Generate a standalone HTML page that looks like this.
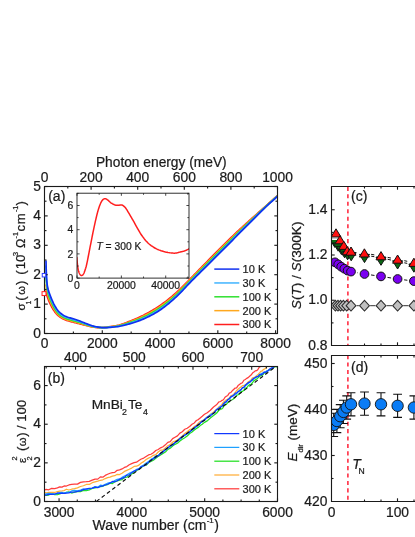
<!DOCTYPE html>
<html lang="en">
<head>
<meta charset="utf-8">
<title>MnBi2Te4 optical conductivity figure</title>
<style>
html,body{margin:0;padding:0;background:#fff;}
body{width:415px;height:537px;overflow:hidden;font-family:"Liberation Sans", sans-serif;}
svg{display:block;font-family:"Liberation Sans", sans-serif;}
svg text{stroke:#1a1a1a;stroke-width:0.22px;paint-order:stroke;}
</style>
</head>
<body>
<svg width="415" height="537" viewBox="0 0 415 537" style="will-change:transform">
<rect x="0" y="0" width="415" height="537" fill="#ffffff"/>
<clipPath id="ca"><rect x="44.5" y="186.5" width="233" height="147"/></clipPath>
<g clip-path="url(#ca)">
<path d="M45.8 291 L45.84 291.2 L45.89 291.46 L45.95 291.78 L46.01 292.12 L46.08 292.49 L46.16 292.85 L46.23 293.19 L46.3 293.5 L46.37 293.77 L46.43 294.01 L46.5 294.25 L46.57 294.47 L46.64 294.71 L46.72 294.95 L46.81 295.21 L46.9 295.5 L47 295.81 L47.11 296.14 L47.22 296.48 L47.34 296.84 L47.47 297.21 L47.61 297.59 L47.75 297.99 L47.9 298.4 L48.05 298.82 L48.2 299.24 L48.36 299.66 L48.52 300.11 L48.71 300.57 L48.91 301.07 L49.14 301.61 L49.4 302.2 L49.7 302.86 L50.04 303.58 L50.42 304.36 L50.81 305.16 L51.21 305.97 L51.61 306.76 L52.01 307.51 L52.4 308.2 L52.77 308.83 L53.15 309.44 L53.52 310.02 L53.9 310.57 L54.27 311.11 L54.65 311.62 L55.02 312.12 L55.4 312.6 L55.77 313.06 L56.12 313.49 L56.46 313.9 L56.81 314.29 L57.17 314.67 L57.55 315.04 L57.96 315.42 L58.4 315.8 L58.88 316.19 L59.4 316.59 L59.94 316.99 L60.51 317.39 L61.08 317.77 L61.66 318.14 L62.24 318.48 L62.8 318.8 L63.35 319.08 L63.88 319.34 L64.41 319.57 L64.95 319.79 L65.5 319.99 L66.07 320.19 L66.67 320.39 L67.3 320.6 L67.98 320.81 L68.7 321.02 L69.44 321.22 L70.21 321.42 L70.99 321.62 L71.77 321.81 L72.54 322.01 L73.3 322.2 L74.04 322.39 L74.78 322.58 L75.52 322.77 L76.25 322.95 L76.98 323.13 L77.72 323.32 L78.46 323.51 L79.2 323.7 L79.94 323.89 L80.66 324.09 L81.38 324.29 L82.11 324.49 L82.84 324.69 L83.6 324.89 L84.38 325.09 L85.2 325.3 L86.06 325.51 L86.96 325.74 L87.89 325.97 L88.84 326.21 L89.79 326.43 L90.75 326.64 L91.68 326.83 L92.6 327 L93.5 327.14 L94.39 327.27 L95.28 327.38 L96.16 327.48 L97.04 327.56 L97.9 327.63 L98.76 327.67 L99.6 327.7 L100.38 327.72 L101.09 327.72 L101.75 327.71 L102.42 327.69 L103.14 327.64 L103.94 327.56 L104.88 327.45 L106 327.3 L107.32 327.12 L108.83 326.91 L110.47 326.66 L112.2 326.39 L113.97 326.09 L115.75 325.76 L117.47 325.4 L119.1 325 L120.65 324.57 L122.17 324.09 L123.68 323.58 L125.16 323.04 L126.64 322.47 L128.12 321.89 L129.6 321.3 L131.1 320.7 L132.61 320.1 L134.12 319.48 L135.63 318.85 L137.15 318.21 L138.67 317.54 L140.18 316.85 L141.69 316.14 L143.2 315.4 L144.7 314.63 L146.2 313.84 L147.7 313.03 L149.2 312.19 L150.7 311.33 L152.2 310.45 L153.7 309.54 L155.2 308.6 L156.71 307.64 L158.22 306.66 L159.73 305.66 L161.25 304.62 L162.77 303.57 L164.28 302.48 L165.79 301.36 L167.3 300.2 L168.8 299.01 L170.3 297.78 L171.8 296.53 L173.3 295.24 L174.8 293.92 L176.3 292.57 L177.8 291.2 L179.3 289.8 L180.8 288.37 L182.3 286.9 L183.8 285.39 L185.31 283.86 L186.81 282.31 L188.33 280.75 L189.86 279.18 L191.4 277.6 L192.96 276.01 L194.55 274.39 L196.15 272.75 L197.76 271.1 L199.36 269.45 L200.96 267.81 L202.54 266.19 L204.1 264.6 L205.63 263.04 L207.15 261.49 L208.65 259.96 L210.14 258.44 L211.62 256.93 L213.11 255.42 L214.6 253.91 L216.1 252.4 L217.61 250.89 L219.12 249.37 L220.63 247.86 L222.15 246.36 L223.67 244.85 L225.18 243.36 L226.69 241.87 L228.2 240.4 L229.7 238.93 L231.2 237.48 L232.7 236.02 L234.2 234.58 L235.7 233.15 L237.2 231.72 L238.7 230.31 L240.2 228.9 L241.71 227.51 L243.22 226.13 L244.73 224.76 L246.25 223.4 L247.77 222.05 L249.28 220.7 L250.79 219.35 L252.3 218 L253.8 216.66 L255.28 215.34 L256.75 214.03 L258.23 212.71 L259.71 211.39 L261.21 210.05 L262.74 208.69 L264.3 207.3 L265.95 205.83 L267.7 204.26 L269.5 202.65 L271.3 201.03 L273.06 199.45 L274.73 197.96 L276.26 196.59 L277.6 195.4 L278.77 194.36 L279.84 193.43 L280.79 192.59 L281.63 191.86 L282.37 191.21 L283.01 190.66 L283.55 190.19 L284 189.8" fill="none" stroke="#ff1e1e" stroke-width="1.7" stroke-linejoin="round" stroke-linecap="round" />
<path d="M46 285 L46.02 285.23 L46.05 285.54 L46.08 285.91 L46.11 286.31 L46.15 286.74 L46.2 287.18 L46.25 287.6 L46.3 288 L46.36 288.37 L46.42 288.73 L46.49 289.08 L46.56 289.44 L46.63 289.8 L46.71 290.18 L46.8 290.58 L46.9 291 L47 291.45 L47.11 291.92 L47.22 292.4 L47.34 292.9 L47.47 293.41 L47.61 293.93 L47.75 294.46 L47.9 295 L48.05 295.53 L48.2 296.06 L48.36 296.59 L48.52 297.14 L48.71 297.7 L48.91 298.3 L49.14 298.93 L49.4 299.6 L49.7 300.34 L50.04 301.15 L50.42 302 L50.81 302.88 L51.21 303.75 L51.61 304.62 L52.01 305.44 L52.4 306.2 L52.77 306.91 L53.15 307.6 L53.52 308.25 L53.9 308.89 L54.27 309.5 L54.65 310.09 L55.02 310.65 L55.4 311.2 L55.77 311.72 L56.12 312.21 L56.46 312.67 L56.81 313.11 L57.17 313.54 L57.55 313.96 L57.96 314.38 L58.4 314.8 L58.88 315.23 L59.4 315.66 L59.94 316.09 L60.51 316.51 L61.08 316.91 L61.66 317.3 L62.24 317.66 L62.8 318 L63.35 318.3 L63.88 318.57 L64.41 318.82 L64.95 319.05 L65.5 319.27 L66.07 319.48 L66.67 319.69 L67.3 319.9 L67.98 320.11 L68.7 320.32 L69.44 320.52 L70.21 320.72 L70.99 320.91 L71.77 321.11 L72.54 321.3 L73.3 321.5 L74.04 321.7 L74.78 321.9 L75.52 322.09 L76.25 322.29 L76.98 322.49 L77.72 322.69 L78.46 322.89 L79.2 323.1 L79.94 323.31 L80.66 323.53 L81.38 323.76 L82.11 323.98 L82.84 324.21 L83.6 324.44 L84.38 324.67 L85.2 324.9 L86.06 325.14 L86.96 325.39 L87.89 325.65 L88.84 325.91 L89.79 326.16 L90.75 326.4 L91.68 326.61 L92.6 326.8 L93.5 326.96 L94.39 327.1 L95.28 327.22 L96.16 327.33 L97.04 327.42 L97.9 327.5 L98.76 327.56 L99.6 327.6 L100.38 327.64 L101.09 327.66 L101.75 327.68 L102.42 327.68 L103.14 327.66 L103.94 327.6 L104.88 327.52 L106 327.4 L107.32 327.24 L108.83 327.06 L110.47 326.85 L112.2 326.6 L113.97 326.33 L115.75 326.03 L117.47 325.7 L119.1 325.34 L120.65 324.94 L122.17 324.51 L123.68 324.05 L125.16 323.56 L126.64 323.04 L128.12 322.51 L129.6 321.96 L131.1 321.4 L132.61 320.84 L134.12 320.26 L135.63 319.66 L137.15 319.05 L138.67 318.41 L140.18 317.76 L141.69 317.07 L143.2 316.36 L144.7 315.62 L146.2 314.87 L147.7 314.08 L149.2 313.28 L150.7 312.44 L152.2 311.58 L153.7 310.69 L155.2 309.77 L156.71 308.82 L158.22 307.85 L159.73 306.84 L161.25 305.81 L162.77 304.75 L164.28 303.66 L165.79 302.53 L167.3 301.37 L168.8 300.17 L170.3 298.93 L171.8 297.67 L173.3 296.36 L174.8 295.03 L176.3 293.67 L177.8 292.28 L179.3 290.87 L180.8 289.42 L182.3 287.93 L183.8 286.4 L185.31 284.85 L186.81 283.28 L188.33 281.7 L189.86 280.12 L191.4 278.54 L192.96 276.95 L194.55 275.33 L196.15 273.71 L197.76 272.08 L199.36 270.45 L200.96 268.82 L202.54 267.22 L204.1 265.64 L205.63 264.08 L207.15 262.55 L208.65 261.02 L210.14 259.51 L211.62 258 L213.11 256.5 L214.6 255 L216.1 253.49 L217.61 251.98 L219.12 250.47 L220.63 248.97 L222.15 247.46 L223.67 245.96 L225.18 244.47 L226.69 242.98 L228.2 241.49 L229.7 240.01 L231.2 238.54 L232.7 237.07 L234.2 235.6 L235.7 234.14 L237.2 232.69 L238.7 231.25 L240.2 229.81 L241.71 228.38 L243.22 226.97 L244.73 225.56 L246.25 224.16 L247.77 222.77 L249.28 221.38 L250.79 219.99 L252.3 218.6 L253.8 217.22 L255.28 215.85 L256.75 214.49 L258.23 213.13 L259.71 211.76 L261.21 210.38 L262.74 208.98 L264.3 207.56 L265.95 206.07 L267.7 204.49 L269.5 202.87 L271.3 201.24 L273.06 199.66 L274.73 198.17 L276.26 196.8 L277.6 195.61 L278.77 194.57 L279.84 193.63 L280.79 192.8 L281.63 192.06 L282.37 191.42 L283.01 190.87 L283.55 190.4 L284 190.01" fill="none" stroke="#ffa81e" stroke-width="1.7" stroke-linejoin="round" stroke-linecap="round" />
<path d="M46 276 L46.02 276.38 L46.05 276.88 L46.08 277.46 L46.11 278.12 L46.15 278.83 L46.2 279.56 L46.25 280.29 L46.3 281 L46.36 281.71 L46.42 282.44 L46.49 283.2 L46.56 283.97 L46.63 284.74 L46.71 285.51 L46.8 286.27 L46.9 287 L47 287.72 L47.11 288.42 L47.22 289.13 L47.34 289.82 L47.47 290.5 L47.61 291.18 L47.75 291.84 L47.9 292.5 L48.05 293.13 L48.2 293.72 L48.36 294.29 L48.52 294.86 L48.71 295.44 L48.91 296.04 L49.14 296.69 L49.4 297.4 L49.7 298.19 L50.04 299.04 L50.42 299.94 L50.81 300.87 L51.21 301.8 L51.61 302.71 L52.01 303.59 L52.4 304.4 L52.77 305.16 L53.15 305.9 L53.52 306.61 L53.9 307.3 L54.27 307.96 L54.65 308.6 L55.02 309.21 L55.4 309.8 L55.77 310.35 L56.12 310.87 L56.46 311.36 L56.81 311.82 L57.17 312.27 L57.55 312.72 L57.96 313.16 L58.4 313.6 L58.88 314.05 L59.4 314.51 L59.94 314.97 L60.51 315.42 L61.08 315.85 L61.66 316.26 L62.24 316.65 L62.8 317 L63.35 317.31 L63.88 317.59 L64.41 317.83 L64.95 318.06 L65.5 318.27 L66.07 318.47 L66.67 318.68 L67.3 318.9 L67.98 319.12 L68.7 319.34 L69.44 319.55 L70.21 319.76 L70.99 319.97 L71.77 320.18 L72.54 320.39 L73.3 320.6 L74.04 320.81 L74.78 321.02 L75.52 321.22 L76.25 321.43 L76.98 321.64 L77.72 321.85 L78.46 322.07 L79.2 322.3 L79.94 322.53 L80.66 322.77 L81.38 323.02 L82.11 323.27 L82.84 323.52 L83.6 323.78 L84.38 324.04 L85.2 324.3 L86.06 324.57 L86.96 324.86 L87.89 325.16 L88.84 325.46 L89.79 325.75 L90.75 326.03 L91.68 326.28 L92.6 326.5 L93.5 326.69 L94.39 326.86 L95.28 327.01 L96.16 327.14 L97.04 327.25 L97.9 327.35 L98.76 327.43 L99.6 327.5 L100.38 327.56 L101.09 327.61 L101.75 327.65 L102.42 327.68 L103.14 327.68 L103.94 327.65 L104.88 327.59 L106 327.5 L107.32 327.37 L108.83 327.21 L110.47 327.03 L112.2 326.81 L113.97 326.57 L115.75 326.3 L117.47 326 L119.1 325.68 L120.65 325.32 L122.17 324.93 L123.68 324.52 L125.16 324.07 L126.64 323.61 L128.12 323.12 L129.6 322.62 L131.1 322.1 L132.61 321.58 L134.12 321.03 L135.63 320.47 L137.15 319.89 L138.67 319.29 L140.18 318.66 L141.69 318.01 L143.2 317.32 L144.7 316.62 L146.2 315.89 L147.7 315.14 L149.2 314.36 L150.7 313.55 L152.2 312.72 L153.7 311.85 L155.2 310.94 L156.71 310 L158.22 309.03 L159.73 308.03 L161.25 307 L162.77 305.94 L164.28 304.84 L165.79 303.71 L167.3 302.54 L168.8 301.33 L170.3 300.09 L171.8 298.81 L173.3 297.49 L174.8 296.14 L176.3 294.77 L177.8 293.36 L179.3 291.93 L180.8 290.47 L182.3 288.95 L183.8 287.41 L185.31 285.84 L186.81 284.25 L188.33 282.65 L189.86 281.06 L191.4 279.47 L192.96 277.88 L194.55 276.28 L196.15 274.67 L197.76 273.05 L199.36 271.44 L200.96 269.84 L202.54 268.25 L204.1 266.68 L205.63 265.13 L207.15 263.6 L208.65 262.09 L210.14 260.58 L211.62 259.08 L213.11 257.58 L214.6 256.09 L216.1 254.58 L217.61 253.08 L219.12 251.57 L220.63 250.07 L222.15 248.57 L223.67 247.07 L225.18 245.57 L226.69 244.08 L228.2 242.58 L229.7 241.09 L231.2 239.6 L232.7 238.11 L234.2 236.62 L235.7 235.14 L237.2 233.66 L238.7 232.19 L240.2 230.72 L241.71 229.26 L243.22 227.81 L244.73 226.37 L246.25 224.93 L247.77 223.49 L249.28 222.06 L250.79 220.63 L252.3 219.2 L253.8 217.77 L255.28 216.36 L256.75 214.95 L258.23 213.54 L259.71 212.13 L261.21 210.7 L262.74 209.27 L264.3 207.82 L265.95 206.31 L267.7 204.71 L269.5 203.08 L271.3 201.46 L273.06 199.88 L274.73 198.38 L276.26 197.01 L277.6 195.82 L278.77 194.77 L279.84 193.83 L280.79 193 L281.63 192.27 L282.37 191.62 L283.01 191.07 L283.55 190.6 L284 190.22" fill="none" stroke="#2fe02f" stroke-width="1.7" stroke-linejoin="round" stroke-linecap="round" />
<path d="M46 266 L46.02 266.69 L46.05 267.62 L46.08 268.72 L46.11 269.94 L46.15 271.23 L46.2 272.54 L46.25 273.81 L46.3 275 L46.36 276.15 L46.42 277.32 L46.49 278.51 L46.56 279.69 L46.63 280.84 L46.71 281.96 L46.8 283.02 L46.9 284 L47 284.9 L47.11 285.73 L47.22 286.51 L47.34 287.25 L47.47 287.96 L47.61 288.64 L47.75 289.32 L47.9 290 L48.05 290.66 L48.2 291.26 L48.36 291.84 L48.52 292.41 L48.71 292.99 L48.91 293.6 L49.14 294.27 L49.4 295 L49.7 295.82 L50.04 296.72 L50.42 297.68 L50.81 298.66 L51.21 299.65 L51.61 300.62 L52.01 301.54 L52.4 302.4 L52.77 303.2 L53.15 303.96 L53.52 304.69 L53.9 305.4 L54.27 306.08 L54.65 306.74 L55.02 307.38 L55.4 308 L55.77 308.6 L56.12 309.16 L56.46 309.7 L56.81 310.22 L57.17 310.73 L57.55 311.23 L57.96 311.71 L58.4 312.2 L58.88 312.69 L59.4 313.18 L59.94 313.66 L60.51 314.14 L61.08 314.59 L61.66 315.03 L62.24 315.43 L62.8 315.8 L63.35 316.13 L63.88 316.42 L64.41 316.68 L64.95 316.91 L65.5 317.13 L66.07 317.35 L66.67 317.57 L67.3 317.8 L67.98 318.03 L68.7 318.26 L69.44 318.49 L70.21 318.71 L70.99 318.93 L71.77 319.15 L72.54 319.37 L73.3 319.6 L74.04 319.83 L74.78 320.06 L75.52 320.29 L76.25 320.53 L76.98 320.76 L77.72 321 L78.46 321.25 L79.2 321.5 L79.94 321.76 L80.66 322.02 L81.38 322.29 L82.11 322.56 L82.84 322.84 L83.6 323.12 L84.38 323.41 L85.2 323.7 L86.06 324.01 L86.96 324.33 L87.89 324.67 L88.84 325.01 L89.79 325.34 L90.75 325.66 L91.68 325.95 L92.6 326.2 L93.5 326.42 L94.39 326.61 L95.28 326.79 L96.16 326.94 L97.04 327.08 L97.9 327.2 L98.76 327.31 L99.6 327.4 L100.38 327.48 L101.09 327.56 L101.75 327.63 L102.42 327.67 L103.14 327.7 L103.94 327.7 L104.88 327.67 L106 327.6 L107.32 327.5 L108.83 327.37 L110.47 327.22 L112.2 327.03 L113.97 326.82 L115.75 326.59 L117.47 326.32 L119.1 326.04 L120.65 325.73 L122.17 325.39 L123.68 325.02 L125.16 324.63 L126.64 324.22 L128.12 323.79 L129.6 323.33 L131.1 322.86 L132.61 322.37 L134.12 321.87 L135.63 321.34 L137.15 320.8 L138.67 320.23 L140.18 319.63 L141.69 319.01 L143.2 318.36 L144.7 317.68 L146.2 316.99 L147.7 316.27 L149.2 315.52 L150.7 314.75 L152.2 313.94 L153.7 313.09 L155.2 312.2 L156.71 311.27 L158.22 310.31 L159.73 309.32 L161.25 308.29 L162.77 307.22 L164.28 306.12 L165.79 304.98 L167.3 303.8 L168.8 302.58 L170.3 301.33 L171.8 300.03 L173.3 298.7 L174.8 297.34 L176.3 295.95 L177.8 294.53 L179.3 293.08 L180.8 291.6 L182.3 290.06 L183.8 288.5 L185.31 286.9 L186.81 285.29 L188.33 283.68 L189.86 282.07 L191.4 280.48 L192.96 278.89 L194.55 277.3 L196.15 275.7 L197.76 274.11 L199.36 272.51 L200.96 270.93 L202.54 269.35 L204.1 267.8 L205.63 266.26 L207.15 264.74 L208.65 263.24 L210.14 261.74 L211.62 260.24 L213.11 258.75 L214.6 257.26 L216.1 255.76 L217.61 254.26 L219.12 252.76 L220.63 251.26 L222.15 249.76 L223.67 248.26 L225.18 246.76 L226.69 245.26 L228.2 243.76 L229.7 242.25 L231.2 240.74 L232.7 239.23 L234.2 237.72 L235.7 236.21 L237.2 234.7 L238.7 233.2 L240.2 231.7 L241.71 230.21 L243.22 228.72 L244.73 227.23 L246.25 225.75 L247.77 224.27 L249.28 222.79 L250.79 221.32 L252.3 219.84 L253.8 218.37 L255.28 216.9 L256.75 215.44 L258.23 213.98 L259.71 212.52 L261.21 211.05 L262.74 209.58 L264.3 208.1 L265.95 206.56 L267.7 204.96 L269.5 203.32 L271.3 201.69 L273.06 200.1 L274.73 198.61 L276.26 197.24 L277.6 196.04 L278.77 194.99 L279.84 194.05 L280.79 193.22 L281.63 192.49 L282.37 191.85 L283.01 191.29 L283.55 190.83 L284 190.44" fill="none" stroke="#3fb4ff" stroke-width="1.7" stroke-linejoin="round" stroke-linecap="round" />
<path d="M46 261 L46.02 261.86 L46.05 263 L46.08 264.36 L46.11 265.88 L46.15 267.46 L46.2 269.06 L46.25 270.6 L46.3 272 L46.36 273.32 L46.42 274.65 L46.49 275.98 L46.56 277.28 L46.63 278.55 L46.71 279.77 L46.8 280.92 L46.9 282 L47 282.99 L47.11 283.91 L47.22 284.76 L47.34 285.57 L47.47 286.33 L47.61 287.07 L47.75 287.79 L47.9 288.5 L48.05 289.17 L48.2 289.78 L48.36 290.34 L48.52 290.89 L48.71 291.44 L48.91 292.03 L49.14 292.67 L49.4 293.4 L49.7 294.22 L50.04 295.13 L50.42 296.09 L50.81 297.09 L51.21 298.09 L51.61 299.08 L52.01 300.02 L52.4 300.9 L52.77 301.72 L53.15 302.52 L53.52 303.3 L53.9 304.05 L54.27 304.77 L54.65 305.48 L55.02 306.15 L55.4 306.8 L55.77 307.42 L56.12 308 L56.46 308.56 L56.81 309.09 L57.17 309.6 L57.55 310.1 L57.96 310.6 L58.4 311.1 L58.88 311.6 L59.4 312.1 L59.94 312.6 L60.51 313.08 L61.08 313.55 L61.66 313.99 L62.24 314.41 L62.8 314.8 L63.35 315.15 L63.88 315.46 L64.41 315.75 L64.95 316.02 L65.5 316.27 L66.07 316.51 L66.67 316.75 L67.3 317 L67.98 317.24 L68.7 317.47 L69.44 317.7 L70.21 317.91 L70.99 318.13 L71.77 318.35 L72.54 318.57 L73.3 318.8 L74.04 319.04 L74.78 319.28 L75.52 319.52 L76.25 319.76 L76.98 320.01 L77.72 320.27 L78.46 320.53 L79.2 320.8 L79.94 321.08 L80.66 321.36 L81.38 321.66 L82.11 321.96 L82.84 322.26 L83.6 322.57 L84.38 322.88 L85.2 323.2 L86.06 323.53 L86.96 323.88 L87.89 324.25 L88.84 324.61 L89.79 324.97 L90.75 325.31 L91.68 325.62 L92.6 325.9 L93.5 326.14 L94.39 326.37 L95.28 326.57 L96.16 326.75 L97.04 326.91 L97.9 327.06 L98.76 327.19 L99.6 327.3 L100.38 327.4 L101.09 327.49 L101.75 327.56 L102.42 327.62 L103.14 327.65 L103.94 327.66 L104.88 327.65 L106 327.6 L107.32 327.53 L108.83 327.43 L110.47 327.3 L112.2 327.15 L113.97 326.98 L115.75 326.78 L117.47 326.55 L119.1 326.3 L120.65 326.02 L122.17 325.72 L123.68 325.39 L125.16 325.04 L126.64 324.66 L128.12 324.26 L129.6 323.84 L131.1 323.4 L132.61 322.94 L134.12 322.46 L135.63 321.96 L137.15 321.44 L138.67 320.9 L140.18 320.33 L141.69 319.73 L143.2 319.1 L144.7 318.45 L146.2 317.78 L147.7 317.08 L149.2 316.36 L150.7 315.6 L152.2 314.81 L153.7 313.98 L155.2 313.1 L156.71 312.18 L158.22 311.23 L159.73 310.23 L161.25 309.2 L162.77 308.13 L164.28 307.02 L165.79 305.88 L167.3 304.7 L168.8 303.48 L170.3 302.21 L171.8 300.91 L173.3 299.57 L174.8 298.19 L176.3 296.79 L177.8 295.36 L179.3 293.9 L180.8 292.4 L182.3 290.86 L183.8 289.27 L185.31 287.66 L186.81 286.04 L188.33 284.41 L189.86 282.8 L191.4 281.2 L192.96 279.62 L194.55 278.03 L196.15 276.44 L197.76 274.86 L199.36 273.28 L200.96 271.71 L202.54 270.15 L204.1 268.6 L205.63 267.07 L207.15 265.56 L208.65 264.06 L210.14 262.56 L211.62 261.07 L213.11 259.59 L214.6 258.1 L216.1 256.6 L217.61 255.1 L219.12 253.6 L220.63 252.11 L222.15 250.61 L223.67 249.11 L225.18 247.61 L226.69 246.11 L228.2 244.6 L229.7 243.08 L231.2 241.56 L232.7 240.04 L234.2 238.51 L235.7 236.98 L237.2 235.45 L238.7 233.92 L240.2 232.4 L241.71 230.88 L243.22 229.37 L244.73 227.85 L246.25 226.34 L247.77 224.83 L249.28 223.32 L250.79 221.81 L252.3 220.3 L253.8 218.8 L255.28 217.3 L256.75 215.8 L258.23 214.3 L259.71 212.8 L261.21 211.3 L262.74 209.8 L264.3 208.3 L265.95 206.75 L267.7 205.13 L269.5 203.48 L271.3 201.85 L273.06 200.27 L274.73 198.77 L276.26 197.4 L277.6 196.2 L278.77 195.15 L279.84 194.21 L280.79 193.38 L281.63 192.64 L282.37 192 L283.01 191.45 L283.55 190.99 L284 190.6" fill="none" stroke="#1030f0" stroke-width="1.7" stroke-linejoin="round" stroke-linecap="round" />
</g>
<rect x="44.5" y="186.5" width="233" height="147" fill="none" stroke="#1a1a1a" stroke-width="1.12"/>
<line x1="44.5" y1="333.5" x2="44.5" y2="330.3" stroke="#1a1a1a" stroke-width="1.12" />
<line x1="73.39" y1="333.5" x2="73.39" y2="331.5" stroke="#1a1a1a" stroke-width="1.12" />
<line x1="102.28" y1="333.5" x2="102.28" y2="330.3" stroke="#1a1a1a" stroke-width="1.12" />
<line x1="131.17" y1="333.5" x2="131.17" y2="331.5" stroke="#1a1a1a" stroke-width="1.12" />
<line x1="160.05" y1="333.5" x2="160.05" y2="330.3" stroke="#1a1a1a" stroke-width="1.12" />
<line x1="188.94" y1="333.5" x2="188.94" y2="331.5" stroke="#1a1a1a" stroke-width="1.12" />
<line x1="217.83" y1="333.5" x2="217.83" y2="330.3" stroke="#1a1a1a" stroke-width="1.12" />
<line x1="246.72" y1="333.5" x2="246.72" y2="331.5" stroke="#1a1a1a" stroke-width="1.12" />
<line x1="275.61" y1="333.5" x2="275.61" y2="330.3" stroke="#1a1a1a" stroke-width="1.12" />
<line x1="44.5" y1="186.5" x2="44.5" y2="189.7" stroke="#1a1a1a" stroke-width="1.12" />
<line x1="67.8" y1="186.5" x2="67.8" y2="188.5" stroke="#1a1a1a" stroke-width="1.12" />
<line x1="91.1" y1="186.5" x2="91.1" y2="189.7" stroke="#1a1a1a" stroke-width="1.12" />
<line x1="114.4" y1="186.5" x2="114.4" y2="188.5" stroke="#1a1a1a" stroke-width="1.12" />
<line x1="137.7" y1="186.5" x2="137.7" y2="189.7" stroke="#1a1a1a" stroke-width="1.12" />
<line x1="161" y1="186.5" x2="161" y2="188.5" stroke="#1a1a1a" stroke-width="1.12" />
<line x1="184.3" y1="186.5" x2="184.3" y2="189.7" stroke="#1a1a1a" stroke-width="1.12" />
<line x1="207.6" y1="186.5" x2="207.6" y2="188.5" stroke="#1a1a1a" stroke-width="1.12" />
<line x1="230.9" y1="186.5" x2="230.9" y2="189.7" stroke="#1a1a1a" stroke-width="1.12" />
<line x1="254.2" y1="186.5" x2="254.2" y2="188.5" stroke="#1a1a1a" stroke-width="1.12" />
<line x1="277.5" y1="186.5" x2="277.5" y2="189.7" stroke="#1a1a1a" stroke-width="1.12" />
<line x1="44.5" y1="333.5" x2="47.7" y2="333.5" stroke="#1a1a1a" stroke-width="1.12" />
<line x1="277.5" y1="333.5" x2="274.3" y2="333.5" stroke="#1a1a1a" stroke-width="1.12" />
<line x1="44.5" y1="318.8" x2="46.5" y2="318.8" stroke="#1a1a1a" stroke-width="1.12" />
<line x1="277.5" y1="318.8" x2="275.5" y2="318.8" stroke="#1a1a1a" stroke-width="1.12" />
<line x1="44.5" y1="304.1" x2="47.7" y2="304.1" stroke="#1a1a1a" stroke-width="1.12" />
<line x1="277.5" y1="304.1" x2="274.3" y2="304.1" stroke="#1a1a1a" stroke-width="1.12" />
<line x1="44.5" y1="289.4" x2="46.5" y2="289.4" stroke="#1a1a1a" stroke-width="1.12" />
<line x1="277.5" y1="289.4" x2="275.5" y2="289.4" stroke="#1a1a1a" stroke-width="1.12" />
<line x1="44.5" y1="274.7" x2="47.7" y2="274.7" stroke="#1a1a1a" stroke-width="1.12" />
<line x1="277.5" y1="274.7" x2="274.3" y2="274.7" stroke="#1a1a1a" stroke-width="1.12" />
<line x1="44.5" y1="260" x2="46.5" y2="260" stroke="#1a1a1a" stroke-width="1.12" />
<line x1="277.5" y1="260" x2="275.5" y2="260" stroke="#1a1a1a" stroke-width="1.12" />
<line x1="44.5" y1="245.3" x2="47.7" y2="245.3" stroke="#1a1a1a" stroke-width="1.12" />
<line x1="277.5" y1="245.3" x2="274.3" y2="245.3" stroke="#1a1a1a" stroke-width="1.12" />
<line x1="44.5" y1="230.6" x2="46.5" y2="230.6" stroke="#1a1a1a" stroke-width="1.12" />
<line x1="277.5" y1="230.6" x2="275.5" y2="230.6" stroke="#1a1a1a" stroke-width="1.12" />
<line x1="44.5" y1="215.9" x2="47.7" y2="215.9" stroke="#1a1a1a" stroke-width="1.12" />
<line x1="277.5" y1="215.9" x2="274.3" y2="215.9" stroke="#1a1a1a" stroke-width="1.12" />
<line x1="44.5" y1="201.2" x2="46.5" y2="201.2" stroke="#1a1a1a" stroke-width="1.12" />
<line x1="277.5" y1="201.2" x2="275.5" y2="201.2" stroke="#1a1a1a" stroke-width="1.12" />
<line x1="44.5" y1="186.5" x2="47.7" y2="186.5" stroke="#1a1a1a" stroke-width="1.12" />
<line x1="277.5" y1="186.5" x2="274.3" y2="186.5" stroke="#1a1a1a" stroke-width="1.12" />
<rect x="42.25" y="273.45" width="3.5" height="3.5" fill="#fff" stroke="#2a3cff" stroke-width="1"/>
<rect x="42.05" y="291.65" width="3.9" height="3.9" fill="#fff" stroke="#ff2020" stroke-width="1"/>
<text x="44.5" y="181.9" font-size="13.8" text-anchor="middle" fill="#1a1a1a" >0</text>
<text x="91.1" y="181.9" font-size="13.8" text-anchor="middle" fill="#1a1a1a" >200</text>
<text x="137.7" y="181.9" font-size="13.8" text-anchor="middle" fill="#1a1a1a" >400</text>
<text x="184.3" y="181.9" font-size="13.8" text-anchor="middle" fill="#1a1a1a" >600</text>
<text x="230.9" y="181.9" font-size="13.8" text-anchor="middle" fill="#1a1a1a" >800</text>
<text x="277.5" y="181.9" font-size="13.8" text-anchor="middle" fill="#1a1a1a" >1000</text>
<text x="44.5" y="347.5" font-size="13.8" text-anchor="middle" fill="#1a1a1a" >0</text>
<text x="102.28" y="347.5" font-size="13.8" text-anchor="middle" fill="#1a1a1a" >2000</text>
<text x="160.05" y="347.5" font-size="13.8" text-anchor="middle" fill="#1a1a1a" >4000</text>
<text x="217.83" y="347.5" font-size="13.8" text-anchor="middle" fill="#1a1a1a" >6000</text>
<text x="275.61" y="347.5" font-size="13.8" text-anchor="middle" fill="#1a1a1a" >8000</text>
<text x="41" y="337.6" font-size="13.8" text-anchor="end" fill="#1a1a1a" >0</text>
<text x="41" y="308.2" font-size="13.8" text-anchor="end" fill="#1a1a1a" >1</text>
<text x="41" y="278.8" font-size="13.8" text-anchor="end" fill="#1a1a1a" >2</text>
<text x="41" y="249.4" font-size="13.8" text-anchor="end" fill="#1a1a1a" >3</text>
<text x="41" y="220" font-size="13.8" text-anchor="end" fill="#1a1a1a" >4</text>
<text x="41" y="190.6" font-size="13.8" text-anchor="end" fill="#1a1a1a" >5</text>
<text x="161.3" y="167.4" font-size="13.75" text-anchor="middle" fill="#1a1a1a" >Photon energy (meV)</text>
<text x="48.2" y="200.9" font-size="14" text-anchor="start" fill="#1a1a1a" >(a)</text>
<g transform="translate(25.4 310.3) rotate(-90)">
<text x="-0.2" y="0" font-size="11.5" fill="#1a1a1a">&#963;</text>
<text x="5.9" y="5.4" font-size="6.8" fill="#1a1a1a">1</text>
<text x="9.5" y="0" font-size="13.2" fill="#1a1a1a">(</text>
<text x="15.5" y="0" font-size="11.2" fill="#1a1a1a">&#969;</text>
<text x="25.4" y="0" font-size="13.2" fill="#1a1a1a">)</text>
<text x="35.6" y="0" font-size="13.2" fill="#1a1a1a">(</text>
<text x="41" y="0" font-size="13.2" fill="#1a1a1a">10</text>
<text x="54.4" y="-7.5" font-size="7.4" fill="#1a1a1a">3</text>
<text x="62.2" y="0" font-size="12.5" fill="#1a1a1a">&#937;</text>
<text x="71.8" y="-7.5" font-size="7.4" fill="#1a1a1a">-1</text>
<text x="78.9" y="0" font-size="13.2" fill="#1a1a1a" letter-spacing="0.55">cm</text>
<text x="98.2" y="-7.5" font-size="7.4" fill="#1a1a1a">-1</text>
<text x="104.8" y="0" font-size="13.2" fill="#1a1a1a">)</text>
</g>
<line x1="214.3" y1="269.1" x2="239.3" y2="269.1" stroke="#1030f0" stroke-width="1.5" />
<text x="242.6" y="273" font-size="11" text-anchor="start" fill="#1a1a1a" >10 K</text>
<line x1="214.3" y1="282.95" x2="239.3" y2="282.95" stroke="#3fb4ff" stroke-width="1.5" />
<text x="242.6" y="286.85" font-size="11" text-anchor="start" fill="#1a1a1a" >30 K</text>
<line x1="214.3" y1="296.8" x2="239.3" y2="296.8" stroke="#2fe02f" stroke-width="1.5" />
<text x="242.6" y="300.7" font-size="11" text-anchor="start" fill="#1a1a1a" >100 K</text>
<line x1="214.3" y1="310.65" x2="239.3" y2="310.65" stroke="#ffa81e" stroke-width="1.5" />
<text x="242.6" y="314.55" font-size="11" text-anchor="start" fill="#1a1a1a" >200 K</text>
<line x1="214.3" y1="324.5" x2="239.3" y2="324.5" stroke="#ff1e1e" stroke-width="1.5" />
<text x="242.6" y="328.4" font-size="11" text-anchor="start" fill="#1a1a1a" >300 K</text>
<rect x="77" y="193.2" width="112" height="84.9" fill="#fff" stroke="none"/>
<clipPath id="ci"><rect x="77" y="193.2" width="112" height="84.9"/></clipPath>
<g clip-path="url(#ci)">
<path d="M76.87 257.54 L76.92 258.15 L76.98 258.98 L77.06 259.97 L77.14 261.06 L77.24 262.19 L77.34 263.32 L77.44 264.37 L77.54 265.3 L77.65 266.12 L77.76 266.92 L77.87 267.68 L77.99 268.42 L78.11 269.12 L78.25 269.79 L78.39 270.43 L78.56 271.03 L78.73 271.61 L78.93 272.17 L79.14 272.71 L79.36 273.2 L79.58 273.66 L79.81 274.08 L80.03 274.44 L80.24 274.74 L80.45 274.99 L80.66 275.18 L80.88 275.32 L81.09 275.42 L81.3 275.47 L81.51 275.49 L81.72 275.47 L81.93 275.42 L82.14 275.34 L82.35 275.23 L82.56 275.08 L82.77 274.89 L82.98 274.67 L83.2 274.4 L83.41 274.09 L83.62 273.73 L83.83 273.33 L84.04 272.87 L84.25 272.37 L84.46 271.83 L84.67 271.26 L84.88 270.65 L85.09 270.01 L85.3 269.35 L85.5 268.71 L85.69 268.14 L85.86 267.56 L86.04 266.94 L86.23 266.22 L86.45 265.34 L86.7 264.27 L86.99 262.94 L87.33 261.3 L87.72 259.38 L88.13 257.26 L88.57 254.99 L89.03 252.63 L89.48 250.26 L89.93 247.94 L90.36 245.73 L90.79 243.59 L91.21 241.44 L91.63 239.29 L92.05 237.15 L92.47 235.02 L92.89 232.93 L93.32 230.87 L93.74 228.86 L94.16 226.87 L94.6 224.86 L95.03 222.88 L95.47 220.93 L95.9 219.05 L96.32 217.25 L96.72 215.57 L97.11 214.01 L97.48 212.6 L97.84 211.3 L98.19 210.1 L98.52 209 L98.85 207.97 L99.18 207.01 L99.49 206.1 L99.81 205.24 L100.12 204.44 L100.43 203.71 L100.74 203.04 L101.03 202.44 L101.33 201.89 L101.61 201.39 L101.9 200.94 L102.17 200.52 L102.44 200.15 L102.71 199.84 L102.97 199.59 L103.23 199.38 L103.48 199.21 L103.72 199.06 L103.96 198.94 L104.2 198.83 L104.42 198.74 L104.63 198.68 L104.84 198.65 L105.04 198.64 L105.24 198.66 L105.45 198.7 L105.66 198.76 L105.88 198.83 L106.12 198.93 L106.35 199.05 L106.59 199.2 L106.83 199.36 L107.08 199.54 L107.35 199.74 L107.62 199.96 L107.91 200.18 L108.21 200.43 L108.54 200.72 L108.87 201.02 L109.22 201.34 L109.57 201.66 L109.92 201.98 L110.27 202.27 L110.61 202.54 L110.94 202.79 L111.28 203.03 L111.62 203.26 L111.96 203.47 L112.29 203.68 L112.63 203.87 L112.97 204.06 L113.31 204.23 L113.64 204.4 L113.98 204.55 L114.32 204.7 L114.66 204.84 L114.99 204.97 L115.33 205.08 L115.67 205.17 L116.01 205.24 L116.35 205.29 L116.69 205.32 L117.03 205.33 L117.38 205.33 L117.72 205.31 L118.05 205.29 L118.38 205.27 L118.7 205.24 L119.02 205.21 L119.33 205.16 L119.63 205.1 L119.93 205.03 L120.22 204.97 L120.51 204.93 L120.79 204.9 L121.07 204.91 L121.33 204.93 L121.58 204.96 L121.82 205 L122.06 205.05 L122.3 205.13 L122.54 205.25 L122.81 205.39 L123.09 205.58 L123.39 205.8 L123.7 206.05 L124.02 206.33 L124.36 206.63 L124.7 206.98 L125.05 207.37 L125.42 207.8 L125.79 208.28 L126.17 208.8 L126.55 209.36 L126.93 209.96 L127.33 210.6 L127.74 211.29 L128.19 212.03 L128.66 212.82 L129.16 213.68 L129.7 214.59 L130.27 215.56 L130.86 216.59 L131.48 217.66 L132.13 218.79 L132.8 219.96 L133.5 221.18 L134.22 222.45 L134.99 223.8 L135.79 225.27 L136.63 226.8 L137.49 228.37 L138.37 229.94 L139.25 231.47 L140.12 232.92 L140.97 234.26 L141.82 235.5 L142.66 236.68 L143.5 237.82 L144.35 238.9 L145.19 239.92 L146.03 240.9 L146.88 241.82 L147.72 242.69 L148.56 243.5 L149.41 244.24 L150.25 244.93 L151.09 245.56 L151.94 246.15 L152.78 246.71 L153.62 247.24 L154.47 247.75 L155.31 248.24 L156.15 248.69 L157 249.1 L157.84 249.48 L158.68 249.84 L159.53 250.17 L160.37 250.49 L161.21 250.79 L162.06 251.07 L162.9 251.33 L163.74 251.57 L164.59 251.78 L165.43 251.98 L166.28 252.16 L167.12 252.32 L167.96 252.48 L168.82 252.62 L169.69 252.76 L170.57 252.88 L171.44 252.98 L172.3 253.07 L173.14 253.12 L173.95 253.15 L174.71 253.15 L175.42 253.11 L176.09 253.02 L176.73 252.91 L177.35 252.77 L177.95 252.62 L178.54 252.46 L179.15 252.29 L179.77 252.14 L180.41 251.99 L181.05 251.84 L181.7 251.69 L182.34 251.53 L182.98 251.36 L183.61 251.18 L184.23 250.99 L184.83 250.79 L185.44 250.55 L186.08 250.28 L186.72 249.99 L187.34 249.69 L187.92 249.41 L188.44 249.14 L188.88 248.93 L189.22 248.77" fill="none" stroke="#ff1e1e" stroke-width="1.5" stroke-linejoin="round" stroke-linecap="round" />
</g>
<rect x="77" y="193.2" width="112" height="84.9" fill="none" stroke="#1a1a1a" stroke-width="0.9"/>
<line x1="77" y1="278.1" x2="77" y2="275.5" stroke="#1a1a1a" stroke-width="0.8" />
<line x1="77" y1="193.2" x2="77" y2="195.8" stroke="#1a1a1a" stroke-width="0.8" />
<line x1="99.18" y1="278.1" x2="99.18" y2="276.5" stroke="#1a1a1a" stroke-width="0.8" />
<line x1="99.18" y1="193.2" x2="99.18" y2="194.8" stroke="#1a1a1a" stroke-width="0.8" />
<line x1="121.36" y1="278.1" x2="121.36" y2="275.5" stroke="#1a1a1a" stroke-width="0.8" />
<line x1="121.36" y1="193.2" x2="121.36" y2="195.8" stroke="#1a1a1a" stroke-width="0.8" />
<line x1="143.53" y1="278.1" x2="143.53" y2="276.5" stroke="#1a1a1a" stroke-width="0.8" />
<line x1="143.53" y1="193.2" x2="143.53" y2="194.8" stroke="#1a1a1a" stroke-width="0.8" />
<line x1="165.71" y1="278.1" x2="165.71" y2="275.5" stroke="#1a1a1a" stroke-width="0.8" />
<line x1="165.71" y1="193.2" x2="165.71" y2="195.8" stroke="#1a1a1a" stroke-width="0.8" />
<line x1="187.89" y1="278.1" x2="187.89" y2="276.5" stroke="#1a1a1a" stroke-width="0.8" />
<line x1="187.89" y1="193.2" x2="187.89" y2="194.8" stroke="#1a1a1a" stroke-width="0.8" />
<line x1="77" y1="278.1" x2="79.6" y2="278.1" stroke="#1a1a1a" stroke-width="0.8" />
<line x1="189" y1="278.1" x2="186.4" y2="278.1" stroke="#1a1a1a" stroke-width="0.8" />
<line x1="77" y1="266" x2="78.6" y2="266" stroke="#1a1a1a" stroke-width="0.8" />
<line x1="189" y1="266" x2="187.4" y2="266" stroke="#1a1a1a" stroke-width="0.8" />
<line x1="77" y1="253.9" x2="79.6" y2="253.9" stroke="#1a1a1a" stroke-width="0.8" />
<line x1="189" y1="253.9" x2="186.4" y2="253.9" stroke="#1a1a1a" stroke-width="0.8" />
<line x1="77" y1="241.8" x2="78.6" y2="241.8" stroke="#1a1a1a" stroke-width="0.8" />
<line x1="189" y1="241.8" x2="187.4" y2="241.8" stroke="#1a1a1a" stroke-width="0.8" />
<line x1="77" y1="229.7" x2="79.6" y2="229.7" stroke="#1a1a1a" stroke-width="0.8" />
<line x1="189" y1="229.7" x2="186.4" y2="229.7" stroke="#1a1a1a" stroke-width="0.8" />
<line x1="77" y1="217.6" x2="78.6" y2="217.6" stroke="#1a1a1a" stroke-width="0.8" />
<line x1="189" y1="217.6" x2="187.4" y2="217.6" stroke="#1a1a1a" stroke-width="0.8" />
<line x1="77" y1="205.5" x2="79.6" y2="205.5" stroke="#1a1a1a" stroke-width="0.8" />
<line x1="189" y1="205.5" x2="186.4" y2="205.5" stroke="#1a1a1a" stroke-width="0.8" />
<line x1="77" y1="193.4" x2="78.6" y2="193.4" stroke="#1a1a1a" stroke-width="0.8" />
<line x1="189" y1="193.4" x2="187.4" y2="193.4" stroke="#1a1a1a" stroke-width="0.8" />
<text x="77" y="289.2" font-size="10.4" text-anchor="middle" fill="#1a1a1a" >0</text>
<text x="121.36" y="289.2" font-size="10.4" text-anchor="middle" fill="#1a1a1a" >20000</text>
<text x="165.71" y="289.2" font-size="10.4" text-anchor="middle" fill="#1a1a1a" >40000</text>
<text x="73.4" y="281.8" font-size="10.4" text-anchor="end" fill="#1a1a1a" >0</text>
<text x="73.4" y="257.6" font-size="10.4" text-anchor="end" fill="#1a1a1a" >2</text>
<text x="73.4" y="233.4" font-size="10.4" text-anchor="end" fill="#1a1a1a" >4</text>
<text x="73.4" y="209.2" font-size="10.4" text-anchor="end" fill="#1a1a1a" >6</text>
<text x="96.4" y="250.0" font-size="10.3" fill="#1a1a1a"><tspan font-style="italic">T</tspan> = 300 K</text>
<clipPath id="cb"><rect x="44.5" y="366.5" width="233" height="135"/></clipPath>
<g clip-path="url(#cb)" id="bcurves">
<path d="M44.3 490.04 L46.11 489.47 L48.67 489.78 L51.65 488.4 L54.67 488.56 L57.4 487.8 L59.75 486.88 L61.97 487.11 L64.16 485.94 L66.43 486.05 L68.9 484.95 L71.61 484.38 L74.49 484.22 L77.46 484.13 L80.46 482.36 L83.4 481.78 L86.32 481.67 L89.27 481.42 L92.2 480.11 L95.06 479.06 L97.8 479.11 L100.38 476.86 L102.85 477.18 L105.24 475.4 L107.61 474.23 L110 473.23 L112.41 472.53 L114.81 472.29 L117.2 470.32 L119.6 469.88 L122 468.91 L124.42 467.43 L126.84 466.61 L129.26 464.77 L131.68 463.63 L134.1 462.66 L136.5 462.14 L138.9 460.49 L141.3 459.01 L143.7 458.09 L146.1 456.53 L148.52 454.92 L150.94 454.27 L153.36 452.7 L155.78 450.54 L158.2 449.51 L160.6 447.85 L163 446.73 L165.4 444.82 L167.8 442.43 L170.2 441.72 L172.62 438.64 L175.04 437.26 L177.46 435.92 L179.88 433.14 L182.3 431.78 L184.74 429.22 L187.19 428.24 L189.63 426.47 L192.02 424.3 L194.3 422.96 L196.39 420.49 L198.31 419.57 L200.2 417.95 L202.22 416.34 L204.5 414.33 L207.24 412.68 L210.36 410.29 L213.54 406.97 L216.48 404.83 L218.9 401.94 L220.63 401.49 L221.88 400.39 L222.88 400.11 L223.84 399.06 L225 397.28 L226.37 396.26 L227.8 395.44 L229.26 393.18 L230.74 392.54 L232.2 390.8 L233.66 389.44 L235.12 388.05 L236.58 387.81 L238.04 385.55 L239.5 384.42 L240.95 383.33 L242.39 382.74 L243.82 380.24 L245.26 379.5 L246.7 378.37 L248.15 377.62 L249.61 376.27 L251.07 375.11 L252.5 373.03 L253.9 372.07 L255.23 370.89 L256.5 370.65 L257.75 369.75 L259.04 367.49 L260.4 366.41 L261.97 365.19 L263.73 363.71 L265.45 362.63 L266.95 361.52 L268 360.14" fill="none" stroke="#ff3c3c" stroke-width="1.25" stroke-linejoin="round"/>
<path d="M44.3 492.46 L46.11 492.84 L48.67 492.42 L51.65 492.32 L54.67 492.48 L57.4 491.69 L59.75 491.06 L61.97 490.86 L64.16 490.58 L66.43 489.23 L68.9 490 L71.61 489.23 L74.49 488.71 L77.46 487.88 L80.46 486.51 L83.4 485.75 L86.32 484.49 L89.27 484.42 L92.2 482.68 L95.06 481.8 L97.8 481.16 L100.38 480.28 L102.85 479.77 L105.24 478.56 L107.61 477.68 L110 477.08 L112.41 476.14 L114.81 475.67 L117.2 474.26 L119.6 474.58 L122 473.17 L124.42 471.38 L126.84 470.37 L129.26 469.3 L131.68 468.07 L134.1 466.43 L136.5 466.23 L138.9 465.12 L141.3 462.97 L143.7 461.61 L146.1 459.58 L148.52 458.12 L150.94 456.96 L153.36 455.28 L155.78 454.56 L158.2 451.99 L160.6 450.23 L163 450.08 L165.4 447.88 L167.8 445.72 L170.2 444.66 L172.62 442.18 L175.04 441.16 L177.46 440.04 L179.88 438.05 L182.3 435.99 L184.74 433.52 L187.19 431.82 L189.63 429.67 L192.02 428.76 L194.3 426.65 L196.39 425.4 L198.31 423.23 L200.2 421.58 L202.22 420.87 L204.5 419.33 L207.24 416.98 L210.36 414.48 L213.54 412 L216.48 409.54 L218.9 406.79 L220.63 405.72 L221.88 404.3 L222.88 402.81 L223.84 401.82 L225 401.07 L226.37 399.75 L227.8 399.05 L229.26 398.07 L230.74 395.94 L232.2 395.36 L233.66 394.15 L235.12 392.83 L236.58 390.7 L238.04 389.26 L239.5 388.09 L240.95 386.92 L242.39 385.86 L243.82 385.44 L245.26 384.79 L246.7 383.61 L248.14 381.93 L249.58 381.03 L251.02 380.08 L252.46 377.84 L253.9 377.54 L255.36 376.76 L256.85 375.41 L258.32 374.21 L259.75 372.67 L261.1 371.12 L262.31 371.01 L263.41 369.36 L264.48 369.1 L265.62 368.34 L266.9 366.34 L268.5 364.96 L270.36 364.17 L272.23 362.22 L273.86 359.99 L275 358.94" fill="none" stroke="#ffae38" stroke-width="1.25" stroke-linejoin="round"/>
<path d="M44.3 494.38 L46.11 495.37 L48.67 495.04 L51.65 493.83 L54.67 494.62 L57.4 494.62 L59.75 493.92 L61.97 493.26 L64.16 493.33 L66.43 492.45 L68.9 491.97 L71.61 493.04 L74.49 492.15 L77.46 491.52 L80.46 491.65 L83.4 490.4 L86.32 490.54 L89.27 489.92 L92.2 488.42 L95.06 487.88 L97.8 487.29 L100.38 486.52 L102.85 486.32 L105.24 485.07 L107.61 484.52 L110 483.25 L112.41 483.54 L114.81 481.81 L117.2 481.02 L119.6 480.2 L122 479.61 L124.42 477.73 L126.84 477.25 L129.26 475.34 L131.68 474.04 L134.1 472.64 L136.5 470.41 L138.9 469.51 L141.3 467.54 L143.7 465.66 L146.1 465.25 L148.52 462.7 L150.94 461.52 L153.36 460.25 L155.78 458.34 L158.2 456.34 L160.6 454.97 L163 453.37 L165.4 452.04 L167.8 449.33 L170.2 448.29 L172.62 446.06 L175.04 444.32 L177.46 443.25 L179.88 441.03 L182.3 439.29 L184.74 437.74 L187.19 436.08 L189.63 433.49 L192.02 431.91 L194.3 430.01 L196.39 428.46 L198.31 427.34 L200.2 425.59 L202.22 424.21 L204.5 422.37 L207.24 420.86 L210.36 417.95 L213.54 415.6 L216.48 413.26 L218.9 410.24 L220.63 409.27 L221.88 408.83 L222.88 407.86 L223.84 406.02 L225 405.03 L226.37 404.37 L227.8 402.6 L229.26 401.61 L230.74 400.1 L232.2 399.75 L233.66 398.69 L235.12 397.62 L236.58 395.26 L238.04 394.86 L239.5 393.54 L240.95 391.54 L242.39 391.43 L243.82 390.34 L245.26 388 L246.7 387.88 L248.14 385.81 L249.58 384.7 L251.02 384.22 L252.46 382.77 L253.9 380.59 L255.34 379.88 L256.78 378.93 L258.21 377.61 L259.65 376.37 L261.1 375.53 L262.54 375.12 L263.98 373.08 L265.43 372.91 L266.9 371.77 L268.4 370.18 L269.96 369.69 L271.57 369.17 L273.2 368.05 L274.79 366.45 L276.3 366.93 L277.82 365.69 L279.39 364.99 L280.86 362.76 L282.11 362.21 L283 361.31" fill="none" stroke="#22e022" stroke-width="1.25" stroke-linejoin="round"/>
<path d="M44.3 494.72 L46.11 493.81 L48.67 493.39 L51.65 493.58 L54.67 494.06 L57.4 493.68 L59.75 492.62 L61.97 492.26 L64.16 493.2 L66.43 492.42 L68.9 492.3 L71.61 490.99 L74.49 490.49 L77.46 490.94 L80.46 490.03 L83.4 488.96 L86.32 489.71 L89.27 488.69 L92.2 488.35 L95.06 486.65 L97.8 487.13 L100.38 485.23 L102.85 485.65 L105.24 484.24 L107.61 483.23 L110 482.68 L112.41 482.36 L114.81 480.48 L117.2 479.33 L119.6 478.93 L122 477.41 L124.42 476.03 L126.84 474.84 L129.26 473.34 L131.68 472.18 L134.1 470.92 L136.5 469.43 L138.9 468.58 L141.3 466.31 L143.7 465.02 L146.1 462.92 L148.52 461.53 L150.94 459.37 L153.36 458.04 L155.78 455.98 L158.2 455.35 L160.6 453.36 L163 451.09 L165.4 449.79 L167.8 448.72 L170.2 445.71 L172.62 444.99 L175.04 442.59 L177.46 440.86 L179.88 439.53 L182.3 437.04 L184.74 435.36 L187.19 433.76 L189.63 432.33 L192.02 429.54 L194.3 428.5 L196.39 426.67 L198.31 425.05 L200.2 423.19 L202.22 421.49 L204.5 419.23 L207.24 417.17 L210.36 414.61 L213.54 413.09 L216.48 410 L218.9 407.89 L220.63 406.31 L221.88 406.32 L222.88 405.43 L223.84 404.22 L225 402.57 L226.37 401.28 L227.8 400.07 L229.26 399.01 L230.74 397.25 L232.2 396.42 L233.66 394.93 L235.12 394.79 L236.58 393.64 L238.04 391.84 L239.5 390.22 L240.95 390.13 L242.39 387.98 L243.82 386.89 L245.26 385.2 L246.7 384.62 L248.14 383.6 L249.58 382.47 L251.02 380.85 L252.46 380.18 L253.9 378.36 L255.34 377.74 L256.78 376.52 L258.21 376.06 L259.65 374.62 L261.1 373.68 L262.57 373.2 L264.07 372.19 L265.55 371.83 L267.01 370.88 L268.4 370.38 L269.68 369.46 L270.85 368.82 L272.01 368.35 L273.24 366.86 L274.6 365.94 L276.27 365.92 L278.2 363.52 L280.14 363.23 L281.82 362.11 L283 360.52" fill="none" stroke="#1ea0ff" stroke-width="1.25" stroke-linejoin="round"/>
<path d="M44.3 495.1 L46.11 495.04 L48.67 494.43 L51.65 494.35 L54.67 494.21 L57.4 492.96 L59.75 493.32 L61.97 493.09 L64.16 493.37 L66.43 493.07 L68.9 492.79 L71.61 492.05 L74.49 492.08 L77.46 491.29 L80.46 490.81 L83.4 489.59 L86.32 488.77 L89.27 488.39 L92.2 488.16 L95.06 487.17 L97.8 487.6 L100.38 486.47 L102.85 485.81 L105.24 485 L107.61 484.24 L110 483.08 L112.41 481.47 L114.81 481.77 L117.2 480.75 L119.6 479.39 L122 478.35 L124.42 477.37 L126.84 475.24 L129.26 474.94 L131.68 472.85 L134.1 471.16 L136.5 469.97 L138.9 469.11 L141.3 466.73 L143.7 465.9 L146.1 464.61 L148.52 462.24 L150.94 460.39 L153.36 458.83 L155.78 457.41 L158.2 455.8 L160.6 453.83 L163 452.1 L165.4 449.47 L167.8 447.78 L170.2 446.13 L172.62 445.05 L175.04 442.56 L177.46 441.11 L179.88 438.43 L182.3 436.64 L184.74 435.07 L187.19 433.75 L189.63 431.86 L192.02 429.96 L194.3 427.59 L196.39 426.28 L198.31 424.68 L200.2 423.17 L202.22 421.04 L204.5 420.39 L207.24 417.17 L210.36 415.88 L213.54 413.3 L216.48 409.56 L218.9 408.24 L220.63 407.28 L221.88 406.34 L222.88 404.58 L223.84 403.35 L225 402.16 L226.37 402.01 L227.8 399.59 L229.26 398.8 L230.74 396.82 L232.2 396.14 L233.66 395.59 L235.12 393.22 L236.58 393.13 L238.04 391.55 L239.5 390.98 L240.95 389.55 L242.39 387.68 L243.82 387.52 L245.26 385.74 L246.7 383.89 L248.14 382.67 L249.58 382.2 L251.02 380.94 L252.46 379.57 L253.9 378.26 L255.34 377.61 L256.78 376.7 L258.21 376.67 L259.65 374.6 L261.1 374.88 L262.58 374.12 L264.08 372.14 L265.58 372.45 L267.03 371.25 L268.4 370.7 L269.61 369.04 L270.68 368.5 L271.74 367.88 L272.87 368.08 L274.2 366.63 L275.91 365.22 L277.93 364.06 L279.97 362.56 L281.76 361.1 L283 360.4" fill="none" stroke="#1038ff" stroke-width="1.25" stroke-linejoin="round"/>
<line x1="96.4" y1="501.4" x2="278" y2="364.9" stroke="#111" stroke-width="1.15" stroke-dasharray="3.8 2.8"/>
</g>
<rect x="44.5" y="366.5" width="233" height="135" fill="none" stroke="#1a1a1a" stroke-width="1.12"/>
<line x1="59.06" y1="501.5" x2="59.06" y2="498.3" stroke="#1a1a1a" stroke-width="1.12" />
<line x1="77.27" y1="501.5" x2="77.27" y2="499.5" stroke="#1a1a1a" stroke-width="1.12" />
<line x1="95.47" y1="501.5" x2="95.47" y2="499.5" stroke="#1a1a1a" stroke-width="1.12" />
<line x1="113.67" y1="501.5" x2="113.67" y2="499.5" stroke="#1a1a1a" stroke-width="1.12" />
<line x1="131.88" y1="501.5" x2="131.88" y2="498.3" stroke="#1a1a1a" stroke-width="1.12" />
<line x1="150.08" y1="501.5" x2="150.08" y2="499.5" stroke="#1a1a1a" stroke-width="1.12" />
<line x1="168.28" y1="501.5" x2="168.28" y2="499.5" stroke="#1a1a1a" stroke-width="1.12" />
<line x1="186.48" y1="501.5" x2="186.48" y2="499.5" stroke="#1a1a1a" stroke-width="1.12" />
<line x1="204.69" y1="501.5" x2="204.69" y2="498.3" stroke="#1a1a1a" stroke-width="1.12" />
<line x1="222.89" y1="501.5" x2="222.89" y2="499.5" stroke="#1a1a1a" stroke-width="1.12" />
<line x1="241.09" y1="501.5" x2="241.09" y2="499.5" stroke="#1a1a1a" stroke-width="1.12" />
<line x1="259.3" y1="501.5" x2="259.3" y2="499.5" stroke="#1a1a1a" stroke-width="1.12" />
<line x1="277.5" y1="501.5" x2="277.5" y2="498.3" stroke="#1a1a1a" stroke-width="1.12" />
<line x1="46.17" y1="366.5" x2="46.17" y2="368.5" stroke="#1a1a1a" stroke-width="1.12" />
<line x1="60.85" y1="366.5" x2="60.85" y2="368.5" stroke="#1a1a1a" stroke-width="1.12" />
<line x1="75.53" y1="366.5" x2="75.53" y2="369.7" stroke="#1a1a1a" stroke-width="1.12" />
<line x1="90.21" y1="366.5" x2="90.21" y2="368.5" stroke="#1a1a1a" stroke-width="1.12" />
<line x1="104.9" y1="366.5" x2="104.9" y2="368.5" stroke="#1a1a1a" stroke-width="1.12" />
<line x1="119.58" y1="366.5" x2="119.58" y2="368.5" stroke="#1a1a1a" stroke-width="1.12" />
<line x1="134.26" y1="366.5" x2="134.26" y2="369.7" stroke="#1a1a1a" stroke-width="1.12" />
<line x1="148.94" y1="366.5" x2="148.94" y2="368.5" stroke="#1a1a1a" stroke-width="1.12" />
<line x1="163.62" y1="366.5" x2="163.62" y2="368.5" stroke="#1a1a1a" stroke-width="1.12" />
<line x1="178.3" y1="366.5" x2="178.3" y2="368.5" stroke="#1a1a1a" stroke-width="1.12" />
<line x1="192.99" y1="366.5" x2="192.99" y2="369.7" stroke="#1a1a1a" stroke-width="1.12" />
<line x1="207.67" y1="366.5" x2="207.67" y2="368.5" stroke="#1a1a1a" stroke-width="1.12" />
<line x1="222.35" y1="366.5" x2="222.35" y2="368.5" stroke="#1a1a1a" stroke-width="1.12" />
<line x1="237.03" y1="366.5" x2="237.03" y2="368.5" stroke="#1a1a1a" stroke-width="1.12" />
<line x1="251.71" y1="366.5" x2="251.71" y2="369.7" stroke="#1a1a1a" stroke-width="1.12" />
<line x1="266.4" y1="366.5" x2="266.4" y2="368.5" stroke="#1a1a1a" stroke-width="1.12" />
<line x1="44.5" y1="501.5" x2="47.7" y2="501.5" stroke="#1a1a1a" stroke-width="1.12" />
<line x1="277.5" y1="501.5" x2="274.3" y2="501.5" stroke="#1a1a1a" stroke-width="1.12" />
<line x1="44.5" y1="482.18" x2="46.5" y2="482.18" stroke="#1a1a1a" stroke-width="1.12" />
<line x1="277.5" y1="482.18" x2="275.5" y2="482.18" stroke="#1a1a1a" stroke-width="1.12" />
<line x1="44.5" y1="462.86" x2="47.7" y2="462.86" stroke="#1a1a1a" stroke-width="1.12" />
<line x1="277.5" y1="462.86" x2="274.3" y2="462.86" stroke="#1a1a1a" stroke-width="1.12" />
<line x1="44.5" y1="443.54" x2="46.5" y2="443.54" stroke="#1a1a1a" stroke-width="1.12" />
<line x1="277.5" y1="443.54" x2="275.5" y2="443.54" stroke="#1a1a1a" stroke-width="1.12" />
<line x1="44.5" y1="424.22" x2="47.7" y2="424.22" stroke="#1a1a1a" stroke-width="1.12" />
<line x1="277.5" y1="424.22" x2="274.3" y2="424.22" stroke="#1a1a1a" stroke-width="1.12" />
<line x1="44.5" y1="404.9" x2="46.5" y2="404.9" stroke="#1a1a1a" stroke-width="1.12" />
<line x1="277.5" y1="404.9" x2="275.5" y2="404.9" stroke="#1a1a1a" stroke-width="1.12" />
<line x1="44.5" y1="385.58" x2="47.7" y2="385.58" stroke="#1a1a1a" stroke-width="1.12" />
<line x1="277.5" y1="385.58" x2="274.3" y2="385.58" stroke="#1a1a1a" stroke-width="1.12" />
<text x="75.53" y="362.3" font-size="13.8" text-anchor="middle" fill="#1a1a1a" >400</text>
<text x="134.26" y="362.3" font-size="13.8" text-anchor="middle" fill="#1a1a1a" >500</text>
<text x="192.99" y="362.3" font-size="13.8" text-anchor="middle" fill="#1a1a1a" >600</text>
<text x="251.71" y="362.3" font-size="13.8" text-anchor="middle" fill="#1a1a1a" >700</text>
<text x="59.06" y="516.5" font-size="13.8" text-anchor="middle" fill="#1a1a1a" >3000</text>
<text x="131.88" y="516.5" font-size="13.8" text-anchor="middle" fill="#1a1a1a" >4000</text>
<text x="204.69" y="516.5" font-size="13.8" text-anchor="middle" fill="#1a1a1a" >5000</text>
<text x="277.5" y="516.5" font-size="13.8" text-anchor="middle" fill="#1a1a1a" >6000</text>
<text x="41" y="505.6" font-size="13.8" text-anchor="end" fill="#1a1a1a" >0</text>
<text x="41" y="466.96" font-size="13.8" text-anchor="end" fill="#1a1a1a" >2</text>
<text x="41" y="428.32" font-size="13.8" text-anchor="end" fill="#1a1a1a" >4</text>
<text x="41" y="389.68" font-size="13.8" text-anchor="end" fill="#1a1a1a" >6</text>
<text x="47.8" y="383" font-size="14" text-anchor="start" fill="#1a1a1a" >(b)</text>
<text y="408.5" font-size="13.7" fill="#1a1a1a"><tspan x="91.7">MnBi</tspan><tspan x="122.0" font-size="8.8" dy="6.2">2</tspan><tspan x="128.0" dy="-6.2">Te</tspan><tspan x="143.0" font-size="8.8" dy="6.2">4</tspan></text>
<text x="92.6" y="530.4" font-size="14" fill="#1a1a1a">Wave number (cm<tspan font-size="8" dy="-7.4" dx="0.2">-1</tspan><tspan dy="7.4" dx="0.5">)</tspan></text>
<g transform="translate(25.7 463.3) rotate(-90)">
<text x="0.2" y="0" font-size="11.6" fill="#1a1a1a">&#949;</text>
<text x="2.9" y="6.3" font-size="7.4" fill="#1a1a1a">2</text>
<text x="2.9" y="-8.4" font-size="7.4" fill="#1a1a1a">2</text>
<text x="12.3" y="0" font-size="13.2" fill="#1a1a1a">(</text>
<text x="17.1" y="0" font-size="11.2" fill="#1a1a1a">&#969;</text>
<text x="26.6" y="0" font-size="13.2" fill="#1a1a1a">)</text>
<text x="34" y="0" font-size="13.6" fill="#1a1a1a">/</text>
<text x="41.5" y="0" font-size="13.2" fill="#1a1a1a">100</text>
</g>
<line x1="214.3" y1="433.6" x2="239.3" y2="433.6" stroke="#1038ff" stroke-width="1.25" />
<text x="242.6" y="437.5" font-size="11" text-anchor="start" fill="#1a1a1a" >10 K</text>
<line x1="214.3" y1="447.4" x2="239.3" y2="447.4" stroke="#1ea0ff" stroke-width="1.25" />
<text x="242.6" y="451.3" font-size="11" text-anchor="start" fill="#1a1a1a" >30 K</text>
<line x1="214.3" y1="461.2" x2="239.3" y2="461.2" stroke="#22e022" stroke-width="1.25" />
<text x="242.6" y="465.1" font-size="11" text-anchor="start" fill="#1a1a1a" >100 K</text>
<line x1="214.3" y1="475" x2="239.3" y2="475" stroke="#ffae38" stroke-width="1.25" />
<text x="242.6" y="478.9" font-size="11" text-anchor="start" fill="#1a1a1a" >200 K</text>
<line x1="214.3" y1="488.8" x2="239.3" y2="488.8" stroke="#ff3c3c" stroke-width="1.25" />
<text x="242.6" y="492.7" font-size="11" text-anchor="start" fill="#1a1a1a" >300 K</text>
<clipPath id="cc"><rect x="331.5" y="186.5" width="84.5" height="159"/></clipPath>
<line x1="347.9" y1="186.8" x2="347.9" y2="345.5" stroke="#ff2036" stroke-width="1.5" stroke-dasharray="4.1 3.37"/>
<g id="cdata" clip-path="url(#cc)">
<line x1="356.6" y1="305.7" x2="358.9" y2="305.7" stroke="#333" stroke-width="1"/>
<line x1="370.1" y1="305.7" x2="375.4" y2="305.7" stroke="#333" stroke-width="1"/>
<line x1="386.6" y1="305.7" x2="392" y2="305.7" stroke="#333" stroke-width="1"/>
<line x1="403.2" y1="305.7" x2="408.3" y2="305.7" stroke="#333" stroke-width="1"/>
<path d="M335.4 300.4 L340.3 305.7 L335.4 311 L330.5 305.7Z" fill="#c0c0c0" stroke="#2e2e2e" stroke-width="1.1"/>
<path d="M338 300.4 L342.9 305.7 L338 311 L333.1 305.7Z" fill="#c0c0c0" stroke="#2e2e2e" stroke-width="1.1"/>
<path d="M340.6 300.4 L345.5 305.7 L340.6 311 L335.7 305.7Z" fill="#c0c0c0" stroke="#2e2e2e" stroke-width="1.1"/>
<path d="M343.4 300.4 L348.3 305.7 L343.4 311 L338.5 305.7Z" fill="#c0c0c0" stroke="#2e2e2e" stroke-width="1.1"/>
<path d="M346.7 300.4 L351.6 305.7 L346.7 311 L341.8 305.7Z" fill="#c0c0c0" stroke="#2e2e2e" stroke-width="1.1"/>
<path d="M351 300.4 L355.9 305.7 L351 311 L346.1 305.7Z" fill="#c0c0c0" stroke="#2e2e2e" stroke-width="1.1"/>
<path d="M364.5 300.4 L369.4 305.7 L364.5 311 L359.6 305.7Z" fill="#c0c0c0" stroke="#2e2e2e" stroke-width="1.1"/>
<path d="M381 300.4 L385.9 305.7 L381 311 L376.1 305.7Z" fill="#c0c0c0" stroke="#2e2e2e" stroke-width="1.1"/>
<path d="M397.6 300.4 L402.5 305.7 L397.6 311 L392.7 305.7Z" fill="#c0c0c0" stroke="#2e2e2e" stroke-width="1.1"/>
<path d="M413.9 300.4 L418.8 305.7 L413.9 311 L409 305.7Z" fill="#c0c0c0" stroke="#2e2e2e" stroke-width="1.1"/>
<line x1="357.5" y1="272.76" x2="358" y2="272.84" stroke="#111" stroke-width="1"/>
<line x1="371.03" y1="274.95" x2="374.47" y2="275.45" stroke="#111" stroke-width="1"/>
<line x1="387.52" y1="277.42" x2="391.08" y2="277.98" stroke="#111" stroke-width="1"/>
<line x1="404.15" y1="279.84" x2="407.35" y2="280.26" stroke="#111" stroke-width="1"/>
<circle cx="335" cy="262.3" r="4.35" fill="#7a00f0" stroke="#111" stroke-width="1"/>
<circle cx="338.2" cy="264.4" r="4.35" fill="#7a00f0" stroke="#111" stroke-width="1"/>
<circle cx="341.2" cy="266.7" r="4.35" fill="#7a00f0" stroke="#111" stroke-width="1"/>
<circle cx="344.3" cy="268.7" r="4.35" fill="#7a00f0" stroke="#111" stroke-width="1"/>
<circle cx="347.6" cy="270.6" r="4.35" fill="#7a00f0" stroke="#111" stroke-width="1"/>
<circle cx="351" cy="271.6" r="4.35" fill="#7a00f0" stroke="#111" stroke-width="1"/>
<circle cx="364.5" cy="274" r="4.35" fill="#7a00f0" stroke="#111" stroke-width="1"/>
<circle cx="381" cy="276.4" r="4.35" fill="#7a00f0" stroke="#111" stroke-width="1"/>
<circle cx="397.6" cy="279" r="4.35" fill="#7a00f0" stroke="#111" stroke-width="1"/>
<circle cx="413.9" cy="281.1" r="4.35" fill="#7a00f0" stroke="#111" stroke-width="1"/>
<line x1="371.21" y1="256.2" x2="374.29" y2="256.7" stroke="#111" stroke-width="1"/>
<line x1="387.64" y1="259.28" x2="390.96" y2="260.02" stroke="#111" stroke-width="1"/>
<line x1="404.27" y1="262.81" x2="407.23" y2="263.39" stroke="#111" stroke-width="1"/>
<path d="M329.8 239.2 L339.8 239.2 L334.8 247.4Z" fill="#0a6a14" stroke="#111" stroke-width="1" stroke-linejoin="miter"/>
<path d="M333.2 243 L343.2 243 L338.2 251.2Z" fill="#0a6a14" stroke="#111" stroke-width="1" stroke-linejoin="miter"/>
<path d="M336.4 246.4 L346.4 246.4 L341.4 254.6Z" fill="#0a6a14" stroke="#111" stroke-width="1" stroke-linejoin="miter"/>
<path d="M339.6 249.6 L349.6 249.6 L344.6 257.8Z" fill="#0a6a14" stroke="#111" stroke-width="1" stroke-linejoin="miter"/>
<path d="M342.6 251.6 L352.6 251.6 L347.6 259.8Z" fill="#0a6a14" stroke="#111" stroke-width="1" stroke-linejoin="miter"/>
<path d="M346.2 252.6 L356.2 252.6 L351.2 260.8Z" fill="#0a6a14" stroke="#111" stroke-width="1" stroke-linejoin="miter"/>
<path d="M359.5 254.4 L369.5 254.4 L364.5 262.6Z" fill="#0a6a14" stroke="#111" stroke-width="1" stroke-linejoin="miter"/>
<path d="M376 257.1 L386 257.1 L381 265.3Z" fill="#0a6a14" stroke="#111" stroke-width="1" stroke-linejoin="miter"/>
<path d="M392.6 260.8 L402.6 260.8 L397.6 269Z" fill="#0a6a14" stroke="#111" stroke-width="1" stroke-linejoin="miter"/>
<path d="M408.9 264 L418.9 264 L413.9 272.2Z" fill="#0a6a14" stroke="#111" stroke-width="1" stroke-linejoin="miter"/>
<line x1="371.11" y1="254.33" x2="374.29" y2="254.87" stroke="#111" stroke-width="1"/>
<line x1="387.66" y1="257.36" x2="390.94" y2="258.04" stroke="#111" stroke-width="1"/>
<line x1="404.27" y1="260.71" x2="407.23" y2="261.29" stroke="#111" stroke-width="1"/>
<line x1="331.5" y1="239.3" x2="339" y2="239.3" stroke="#fff" stroke-width="1.2"/>
<path d="M331 237 L341 237 L336 228.8Z" fill="#ff1010" stroke="#111" stroke-width="1" stroke-linejoin="miter"/>
<path d="M335 243.8 L345 243.8 L340 235.6Z" fill="#ff1010" stroke="#111" stroke-width="1" stroke-linejoin="miter"/>
<path d="M338.8 249.4 L348.8 249.4 L343.8 241.2Z" fill="#ff1010" stroke="#111" stroke-width="1" stroke-linejoin="miter"/>
<path d="M342.2 254.8 L352.2 254.8 L347.2 246.6Z" fill="#ff1010" stroke="#111" stroke-width="1" stroke-linejoin="miter"/>
<path d="M346 255.2 L356 255.2 L351 247Z" fill="#ff1010" stroke="#111" stroke-width="1" stroke-linejoin="miter"/>
<path d="M359.4 257 L369.4 257 L364.4 248.8Z" fill="#ff1010" stroke="#111" stroke-width="1" stroke-linejoin="miter"/>
<path d="M376 259.8 L386 259.8 L381 251.6Z" fill="#ff1010" stroke="#111" stroke-width="1" stroke-linejoin="miter"/>
<path d="M392.6 263.2 L402.6 263.2 L397.6 255Z" fill="#ff1010" stroke="#111" stroke-width="1" stroke-linejoin="miter"/>
<path d="M408.9 266.4 L418.9 266.4 L413.9 258.2Z" fill="#ff1010" stroke="#111" stroke-width="1" stroke-linejoin="miter"/>
</g>
<path d="M417 186.5 H331.5 V345.5 H417" fill="none" stroke="#1a1a1a" stroke-width="1.12"/>
<line x1="364.5" y1="345.5" x2="364.5" y2="343.5" stroke="#1a1a1a" stroke-width="1.12" />
<line x1="364.5" y1="186.5" x2="364.5" y2="188.5" stroke="#1a1a1a" stroke-width="1.12" />
<line x1="381" y1="345.5" x2="381" y2="343.5" stroke="#1a1a1a" stroke-width="1.12" />
<line x1="381" y1="186.5" x2="381" y2="188.5" stroke="#1a1a1a" stroke-width="1.12" />
<line x1="397.5" y1="345.5" x2="397.5" y2="342.3" stroke="#1a1a1a" stroke-width="1.12" />
<line x1="397.5" y1="186.5" x2="397.5" y2="189.7" stroke="#1a1a1a" stroke-width="1.12" />
<line x1="414" y1="345.5" x2="414" y2="343.5" stroke="#1a1a1a" stroke-width="1.12" />
<line x1="414" y1="186.5" x2="414" y2="188.5" stroke="#1a1a1a" stroke-width="1.12" />
<line x1="331.5" y1="322.88" x2="333.5" y2="322.88" stroke="#1a1a1a" stroke-width="1.12" />
<line x1="331.5" y1="300.25" x2="334.7" y2="300.25" stroke="#1a1a1a" stroke-width="1.12" />
<line x1="331.5" y1="277.62" x2="333.5" y2="277.62" stroke="#1a1a1a" stroke-width="1.12" />
<line x1="331.5" y1="255" x2="334.7" y2="255" stroke="#1a1a1a" stroke-width="1.12" />
<line x1="331.5" y1="232.38" x2="333.5" y2="232.38" stroke="#1a1a1a" stroke-width="1.12" />
<line x1="331.5" y1="209.75" x2="334.7" y2="209.75" stroke="#1a1a1a" stroke-width="1.12" />
<text x="327.4" y="349.6" font-size="13.8" text-anchor="end" fill="#1a1a1a" >0.8</text>
<text x="327.4" y="304.35" font-size="13.8" text-anchor="end" fill="#1a1a1a" >1.0</text>
<text x="327.4" y="259.1" font-size="13.8" text-anchor="end" fill="#1a1a1a" >1.2</text>
<text x="327.4" y="213.85" font-size="13.8" text-anchor="end" fill="#1a1a1a" >1.4</text>
<text x="351" y="201" font-size="14" text-anchor="start" fill="#1a1a1a" >(c)</text>
<g transform="translate(301.1 309.2) rotate(-90)"><text x="0" y="0" font-size="13.6" fill="#1a1a1a"><tspan font-style="italic">S</tspan>(<tspan font-style="italic">T</tspan>) / <tspan font-style="italic">S</tspan>(300K)</text></g>
<clipPath id="cd"><rect x="331.5" y="355.5" width="84.5" height="146"/></clipPath>
<line x1="347.9" y1="355.1" x2="347.9" y2="501.5" stroke="#ff2036" stroke-width="1.5" stroke-dasharray="4.1 3.3"/>
<g id="ddata" clip-path="url(#cd)">
<path d="M333.7 413.3 V436.5 M329.3 413.3 H338.1 M329.3 436.5 H338.1" fill="none" stroke="#111" stroke-width="1.1"/>
<path d="M336.9 409.4 V432.6 M332.5 409.4 H341.3 M332.5 432.6 H341.3" fill="none" stroke="#111" stroke-width="1.1"/>
<path d="M340.2 404.6 V427.8 M335.8 404.6 H344.6 M335.8 427.8 H344.6" fill="none" stroke="#111" stroke-width="1.1"/>
<path d="M343.4 400.3 V423.5 M339 400.3 H347.8 M339 423.5 H347.8" fill="none" stroke="#111" stroke-width="1.1"/>
<path d="M346.7 395.9 V419.1 M342.3 395.9 H351.1 M342.3 419.1 H351.1" fill="none" stroke="#111" stroke-width="1.1"/>
<path d="M351 392.7 V415.9 M346.6 392.7 H355.4 M346.6 415.9 H355.4" fill="none" stroke="#111" stroke-width="1.1"/>
<path d="M364.5 392 V415.2 M360.1 392 H368.9 M360.1 415.2 H368.9" fill="none" stroke="#111" stroke-width="1.1"/>
<path d="M381 392.7 V415.9 M376.6 392.7 H385.4 M376.6 415.9 H385.4" fill="none" stroke="#111" stroke-width="1.1"/>
<path d="M397.6 394.2 V417.4 M393.2 394.2 H402 M393.2 417.4 H402" fill="none" stroke="#111" stroke-width="1.1"/>
<path d="M413.9 395.9 V419.1 M409.5 395.9 H418.3 M409.5 419.1 H418.3" fill="none" stroke="#111" stroke-width="1.1"/>
<circle cx="333.7" cy="424.9" r="5.7" fill="#0a7cf5" stroke="#111" stroke-width="0.9"/>
<circle cx="336.9" cy="421" r="5.7" fill="#0a7cf5" stroke="#111" stroke-width="0.9"/>
<circle cx="340.2" cy="416.2" r="5.7" fill="#0a7cf5" stroke="#111" stroke-width="0.9"/>
<circle cx="343.4" cy="411.9" r="5.7" fill="#0a7cf5" stroke="#111" stroke-width="0.9"/>
<circle cx="346.7" cy="407.5" r="5.7" fill="#0a7cf5" stroke="#111" stroke-width="0.9"/>
<circle cx="351" cy="404.3" r="5.7" fill="#0a7cf5" stroke="#111" stroke-width="0.9"/>
<circle cx="364.5" cy="403.6" r="5.7" fill="#0a7cf5" stroke="#111" stroke-width="0.9"/>
<circle cx="381" cy="404.3" r="5.7" fill="#0a7cf5" stroke="#111" stroke-width="0.9"/>
<circle cx="397.6" cy="405.8" r="5.7" fill="#0a7cf5" stroke="#111" stroke-width="0.9"/>
<circle cx="413.9" cy="407.5" r="5.7" fill="#0a7cf5" stroke="#111" stroke-width="0.9"/>
</g>
<path d="M417 355.5 H331.5 V501.5 H417" fill="none" stroke="#1a1a1a" stroke-width="1.12"/>
<line x1="364.5" y1="501.5" x2="364.5" y2="499.5" stroke="#1a1a1a" stroke-width="1.12" />
<line x1="364.5" y1="355.5" x2="364.5" y2="357.5" stroke="#1a1a1a" stroke-width="1.12" />
<line x1="381" y1="501.5" x2="381" y2="499.5" stroke="#1a1a1a" stroke-width="1.12" />
<line x1="381" y1="355.5" x2="381" y2="357.5" stroke="#1a1a1a" stroke-width="1.12" />
<line x1="397.5" y1="501.5" x2="397.5" y2="498.3" stroke="#1a1a1a" stroke-width="1.12" />
<line x1="397.5" y1="355.5" x2="397.5" y2="358.7" stroke="#1a1a1a" stroke-width="1.12" />
<line x1="414" y1="501.5" x2="414" y2="499.5" stroke="#1a1a1a" stroke-width="1.12" />
<line x1="414" y1="355.5" x2="414" y2="357.5" stroke="#1a1a1a" stroke-width="1.12" />
<line x1="331.5" y1="478.5" x2="333.5" y2="478.5" stroke="#1a1a1a" stroke-width="1.12" />
<line x1="331.5" y1="455.5" x2="334.7" y2="455.5" stroke="#1a1a1a" stroke-width="1.12" />
<line x1="331.5" y1="432.5" x2="333.5" y2="432.5" stroke="#1a1a1a" stroke-width="1.12" />
<line x1="331.5" y1="409.5" x2="334.7" y2="409.5" stroke="#1a1a1a" stroke-width="1.12" />
<line x1="331.5" y1="386.5" x2="333.5" y2="386.5" stroke="#1a1a1a" stroke-width="1.12" />
<line x1="331.5" y1="363.5" x2="334.7" y2="363.5" stroke="#1a1a1a" stroke-width="1.12" />
<text x="327.4" y="505.6" font-size="13.8" text-anchor="end" fill="#1a1a1a" >420</text>
<text x="327.4" y="459.6" font-size="13.8" text-anchor="end" fill="#1a1a1a" >430</text>
<text x="327.4" y="413.6" font-size="13.8" text-anchor="end" fill="#1a1a1a" >440</text>
<text x="327.4" y="367.6" font-size="13.8" text-anchor="end" fill="#1a1a1a" >450</text>
<text x="331.5" y="516.5" font-size="13.8" text-anchor="middle" fill="#1a1a1a" >0</text>
<text x="397.5" y="516.5" font-size="13.8" text-anchor="middle" fill="#1a1a1a" >100</text>
<text x="351" y="371.6" font-size="14" text-anchor="start" fill="#1a1a1a" >(d)</text>
<text x="352.2" y="468.6" font-size="14" fill="#1a1a1a"><tspan font-style="italic">T</tspan><tspan font-size="8.6" dy="5.0" dx="-2.2">N</tspan></text>
<g transform="translate(297 461.6) rotate(-90)"><text x="0" y="0" font-size="13.5" fill="#1a1a1a"><tspan font-style="italic">E</tspan><tspan font-size="7.6" dy="6.4">dir</tspan><tspan dy="-6.4"> (meV)</tspan></text></g>
</svg>
</body>
</html>
